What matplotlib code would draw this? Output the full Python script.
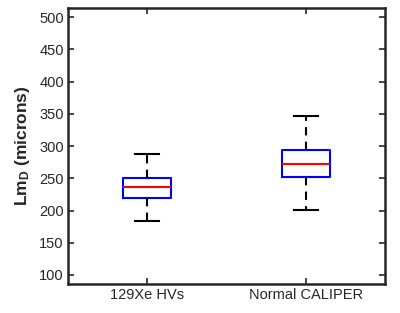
import matplotlib
matplotlib.use("Agg")
import matplotlib.pyplot as plt

plt.rcParams['font.family'] = ['Liberation Sans', 'DejaVu Sans']
plt.rcParams['mathtext.fontset'] = 'custom'
plt.rcParams['mathtext.rm'] = 'Liberation Sans'
plt.rcParams['mathtext.bf'] = 'Liberation Sans:bold'

categories = ["129Xe HVs", "Normal CALIPER"]
medians = [237, 272]
q1s = [220, 252]
q3s = [250, 294.5]
whislo = [184, 201]
whishi = [287, 347]
yticks = [100, 150, 200, 250, 300, 350, 400, 450, 500]

stats = []
for i, c in enumerate(categories):
    stats.append(dict(label=c, med=medians[i], q1=q1s[i], q3=q3s[i],
                      whislo=whislo[i], whishi=whishi[i], fliers=[]))

fig = plt.figure(figsize=(4.0, 3.13), dpi=100)
ax = fig.add_axes([68/400, 1-284/313, (385-68)/400, (284-7.5)/313])
ax.bxp(stats, positions=[1, 2], widths=0.3, showfliers=False,
       boxprops=dict(color='#0000ff', linewidth=1.5),
       medianprops=dict(color='#ff0000', linewidth=1.5),
       whiskerprops=dict(color='black', linewidth=1.5, linestyle=(0, (4, 3))),
       capprops=dict(color='black', linewidth=1.5),
       capwidths=0.15)
ax.set_xlim(0.5, 2.5)
ax.set_ylim(86, 515)
ax.set_yticks(yticks)
ax.set_xticks([1, 2])
ax.set_xticklabels(categories)
ax.tick_params(direction='in', top=True, right=True, length=4, width=1.2,
               labelsize=10.5, colors='#262626', labelcolor='#262626', pad=3)
for s in ax.spines.values():
    s.set_linewidth(1.8)
    s.set_color('#262626')
ax.set_ylabel(r'$\mathbf{Lm_D}$ (microns)', fontsize=12.5, fontweight='bold',
              color='#262626', labelpad=5)
fig.savefig("out.png", dpi=100)
